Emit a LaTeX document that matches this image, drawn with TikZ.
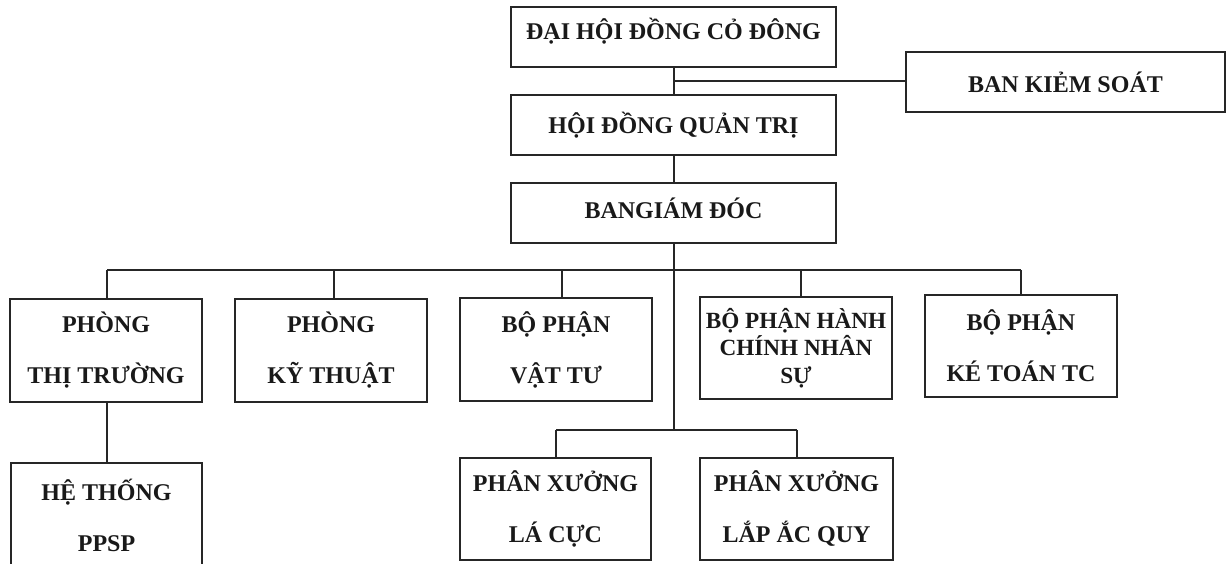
\documentclass[tikz,border=0pt]{standalone}
\usepackage{fontspec}
\setmainfont{Liberation Serif}
\begin{document}
\begin{tikzpicture}[x=0.5pt,y=-0.5pt,
  box/.style={draw=black!85, line width=1.1pt, inner sep=0pt, align=center,
    font=\bfseries\fontsize{12}{25.5}\selectfont, text=black!90},
  lbl/.style={font=\bfseries\fontsize{12}{14}\selectfont, text=black!90, inner sep=0pt},
  link/.style={draw=black!85, line width=1.1pt}]
\useasboundingbox (0,0) rectangle (1232,563);
\clip (0,0) rectangle (1232,563);
% top chain
\node[box, minimum width=162.5pt, minimum height=30pt] (dhd) at (673.5,37) {};
\node[lbl] (dhdt) at (673.5,31) {ĐẠI HỘI ĐỒNG CỎ ĐÔNG};
\node[box, minimum width=162.5pt, minimum height=30pt] (hdqt) at (673.5,125) {HỘI ĐỒNG QUẢN TRỊ};
\node[box, minimum width=162.5pt, minimum height=30pt] (bgd) at (673.5,213) {};
\node[lbl] (bgdt) at (673.5,208) {BANGIÁM ĐÓC};
\node[box, minimum width=159.5pt, minimum height=30pt] (bks) at (1065.5,82) {BAN KIẺM SOÁT};
% second row
\node[box, minimum width=96pt, minimum height=51.5pt] (ptt) at (106,350.5) {PHÒNG\\THỊ TRƯỜNG};
\node[box, minimum width=96pt, minimum height=51.5pt] (pkt) at (331,350.5) {PHÒNG\\KỸ THUẬT};
\node[box, minimum width=96pt, minimum height=51.5pt] (vt) at (556,349.5) {BỘ PHẬN\\VẬT TƯ};
\node[box, minimum width=96pt, minimum height=51pt, font=\bfseries\fontsize{11.6}{13.8}\selectfont] (hcns) at (796,348) {BỘ PHẬN HÀNH\\CHÍNH NHÂN\\SỰ};
\node[box, minimum width=96pt, minimum height=51pt] (kt) at (1021,346) {BỘ PHẬN\\KÉ TOÁN TC};
% third row
\node[box, minimum width=95.5pt, minimum height=52pt] (ht) at (106.5,515) {HỆ THỐNG\\PPSP};
\node[box, minimum width=95.5pt, minimum height=51pt] (pxl) at (555.5,509) {PHÂN XƯỞNG\\LÁ CỰC};
\node[box, minimum width=96.5pt, minimum height=51pt] (pxa) at (796.5,509) {PHÂN XƯỞNG\\LẮP ẮC QUY};
% connectors
\coordinate (t1) at (674,81);
\coordinate (bus) at (674,270);
\coordinate (pxbus) at (674,430);
\draw[link] (dhd.south -| t1) -- (hdqt.north -| t1);
\draw[link] (t1) -- (t1 -| bks.west);
\draw[link] (hdqt.south -| t1) -- (bgd.north -| t1);
\draw[link] (bgd.south -| bus) -- (pxbus);
\coordinate (d1) at (107,270);
\coordinate (d2) at (334,270);
\coordinate (d3) at (562,270);
\coordinate (d4) at (801,270);
\coordinate (d5) at (1021,270);
\draw[link] (d1) -- (d5);
\draw[link] (d1) -- (d1 |- ptt.north);
\draw[link] (d2) -- (d2 |- pkt.north);
\draw[link] (d3) -- (d3 |- vt.north);
\draw[link] (d4) -- (d4 |- hcns.north);
\draw[link] (d5) -- (d5 |- kt.north);
\draw[link] (ptt.south -| d1) -- (ht.north -| d1);
\coordinate (p1) at (556,430);
\coordinate (p2) at (797,430);
\draw[link] (p1) -- (p2);
\draw[link] (p1) -- (p1 |- pxl.north);
\draw[link] (p2) -- (p2 |- pxa.north);
\end{tikzpicture}
\end{document}
